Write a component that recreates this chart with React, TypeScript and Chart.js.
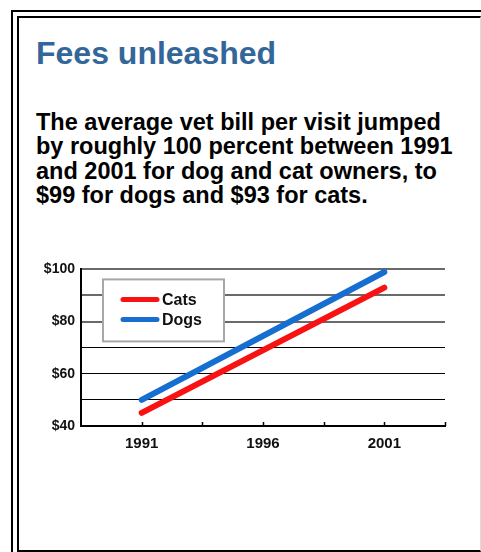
import React, { useEffect, useRef } from "react";
import { Chart, registerables } from "chart.js";

Chart.register(...registerables);

const years = [1991, 2001];
const catFees = [45, 93];
const dogFees = [50, 99];
const seriesLabels = ["Cats", "Dogs"];
const seriesColors = ["#f81212", "#166fd0"];
const xMin = 1988.5;
const xMax = 2003.5;
const yMin = 40;
const yMax = 100;

const FONT = "'Liberation Sans', Arial, sans-serif";

const legendPlugin = {
  id: "insideLegend",
  afterDraw(chart: any) {
    const { ctx, chartArea } = chart;
    const x = chartArea.left + 22;
    const y = chartArea.top + 10;
    const w = 121;
    const h = 62;
    ctx.save();
    ctx.fillStyle = "#ffffff";
    ctx.fillRect(x, y, w, h);
    ctx.strokeStyle = "#a8a8a8";
    ctx.lineWidth = 2;
    ctx.strokeRect(x, y, w, h);
    chart.data.datasets.forEach((ds: any, i: number) => {
      const ly = y + 20 + i * 20;
      ctx.strokeStyle = ds.borderColor;
      ctx.lineWidth = 5;
      ctx.lineCap = "round";
      ctx.beginPath();
      ctx.moveTo(x + 20, ly);
      ctx.lineTo(x + 54, ly);
      ctx.stroke();
      ctx.fillStyle = "#111";
      ctx.font = `bold 16px ${FONT}`;
      ctx.textBaseline = "middle";
      ctx.textAlign = "left";
      ctx.fillText(ds.label, x + 59, ly + 1);
    });
    ctx.restore();
  },
};

const tickMarkPlugin = {
  id: "upTicks",
  afterDatasetsDraw(chart: any) {
    const { ctx, chartArea } = chart;
    const xs = chart.scales.x;
    ctx.save();
    ctx.strokeStyle = "#000";
    ctx.lineWidth = 1.5;
    xs.ticks.forEach((t: any) => {
      if (t.value === xMin) return;
      const px = Math.round(xs.getPixelForValue(t.value)) + 0.5;
      ctx.beginPath();
      ctx.moveTo(px, chartArea.bottom);
      ctx.lineTo(px, chartArea.bottom - 4);
      ctx.stroke();
    });
    ctx.restore();
  },
};

function FeeChart() {
  const ref = useRef<HTMLCanvasElement>(null);
  useEffect(() => {
    if (!ref.current) return;
    const chart = new Chart(ref.current, {
      type: "line",
      data: {
        datasets: [
          {
            label: seriesLabels[0],
            data: years.map((yr, i) => ({ x: yr, y: catFees[i] })),
            borderColor: seriesColors[0],
            backgroundColor: seriesColors[0],
            borderWidth: 6,
            borderCapStyle: "round",
            pointRadius: 0,
            clip: 8,
          },
          {
            label: seriesLabels[1],
            data: years.map((yr, i) => ({ x: yr, y: dogFees[i] })),
            borderColor: seriesColors[1],
            backgroundColor: seriesColors[1],
            borderWidth: 6,
            borderCapStyle: "round",
            pointRadius: 0,
            clip: 8,
          },
        ],
      },
      options: {
        animation: false,
        responsive: false,
        layout: { padding: { left: 0, top: 14, right: 15, bottom: 0 } },
        plugins: { legend: { display: false }, tooltip: { enabled: false } },
        scales: {
          x: {
            type: "linear",
            min: xMin,
            max: xMax,
            afterFit: (s: any) => {
              s.height = 34;
            },
            ticks: {
              stepSize: 2.5,
              autoSkip: false,
              maxRotation: 0,
              padding: 9,
              color: "#111",
              font: { family: FONT, size: 15, weight: "bold" },
              callback: (v: any) => (Number.isInteger(v) ? String(v) : ""),
            },
            grid: { display: false, drawTicks: false },
            border: { display: true, color: "#000", width: 2 },
          },
          y: {
            min: yMin,
            max: yMax,
            afterFit: (s: any) => {
              s.width = 51;
            },
            ticks: {
              stepSize: 10,
              padding: 6,
              color: "#111",
              font: { family: FONT, size: 14, weight: "bold" },
              callback: (v: any) => (v % 20 === 0 ? "$" + v : ""),
            },
            grid: {
              drawTicks: false,
              color: (c: any) => (c.tick && c.tick.value >= 80 ? "#6a6a6a" : "#000"),
              lineWidth: (c: any) => (c.tick && c.tick.value >= 80 ? 2 : 1),
            },
            border: { display: true, color: "#000", width: 2 },
          },
        },
      },
      plugins: [tickMarkPlugin, legendPlugin],
    } as any);
    return () => chart.destroy();
  }, []);
  return (
    <canvas
      ref={ref}
      width={430}
      height={205}
      style={{ position: "absolute", left: 30, top: 255, width: 430, height: 205 }}
    />
  );
}

export default function App() {
  return (
    <div>
      <div
        style={{
          position: "absolute",
          left: 11,
          top: 10,
          width: 470,
          height: 542,
          borderLeft: "2px solid #000",
          borderTop: "2px solid #000",
          boxSizing: "border-box",
        }}
      />
      <div
        style={{
          position: "absolute",
          left: 17,
          top: 16,
          width: 464,
          height: 536,
          borderLeft: "2px solid #000",
          borderTop: "2px solid #000",
          borderBottom: "2px solid #000",
          borderRight: "1px solid #dcdcdc",
          boxSizing: "border-box",
          background: "#fff",
        }}
      />
      <div
        style={{
          position: "absolute",
          left: 36,
          top: 37,
          fontFamily: FONT,
          fontWeight: "bold",
          fontSize: 32,
          lineHeight: "32px",
          color: "#336699",
          whiteSpace: "nowrap",
        }}
      >
        Fees unleashed
      </div>
      <div
        style={{
          position: "absolute",
          left: 36,
          top: 110,
          fontFamily: FONT,
          fontWeight: "bold",
          fontSize: 23.5,
          lineHeight: "24.4px",
          color: "#000",
          whiteSpace: "nowrap",
        }}
      >
        The average vet bill per visit jumped
        <br />
        by roughly 100 percent between 1991
        <br />
        and 2001 for dog and cat owners, to
        <br />
        $99 for dogs and $93 for cats.
      </div>
      <FeeChart />
    </div>
  );
}
